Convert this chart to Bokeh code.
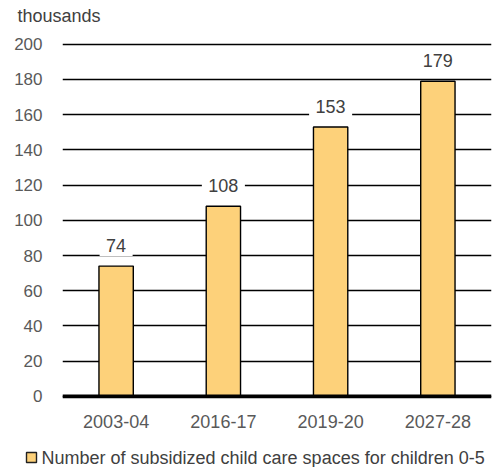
from bokeh.plotting import figure
from bokeh.models import (ColumnDataSource, Range1d, FactorRange, LabelSet, Span,
                          FixedTicker)
from bokeh.core.properties import value
from bokeh.embed import file_html
from bokeh.resources import INLINE

categories = ["2003-04", "2016-17", "2019-20", "2027-28"]
values = [74, 108, 153, 179]
labels = ["74", "108", "153", "179"]
y_ticks = [0, 20, 40, 60, 80, 100, 120, 140, 160, 180, 200]
series_name = "Number of subsidized child care spaces for children 0-5"
unit_label = "thousands"

FONT = "Liberation Sans"
BAR_COLOR = "#FDD17A"
W = 492

has_pad = "padding" in LabelSet.properties()
if has_pad:
    shown = labels
else:
    shown = ["\u00a0\u200a" + s + "\u00a0\u200a" for s in labels]

src = ColumnDataSource(dict(cat=categories, val=values, lab=shown))

def strip(h):
    fig = figure(width=W, height=h, x_range=Range1d(0, W), y_range=Range1d(0, h),
                 output_backend="svg", toolbar_location=None,
                 x_axis_location=None, y_axis_location=None,
                 min_border_left=0, min_border_right=0, min_border_top=0, min_border_bottom=0)
    fig.outline_line_color = None
    fig.background_fill_color = "white"
    fig.border_fill_color = "white"
    fig.grid.visible = False
    return fig

# --- top strip with the unit label ---
top = strip(32)
top.text(x=[17], y=[17], text=[unit_label], text_font=value(FONT), text_font_size="18px",
         text_color="#404040", text_baseline="middle", text_align="left")

# --- main chart ---
p = figure(width=W, height=408, x_range=FactorRange(*categories, range_padding=0),
           y_range=Range1d(-1.2, 201), output_backend="svg", toolbar_location=None,
           min_border_left=62, min_border_right=1, min_border_top=10, min_border_bottom=42)
p.outline_line_color = None
p.background_fill_color = "white"
p.border_fill_color = "white"

bars = p.vbar(x="cat", top="val", width=0.32, source=src, fill_color=BAR_COLOR,
              line_color="black", line_width=1.4)

p.xgrid.grid_line_color = None
p.ygrid.grid_line_color = "black"
p.ygrid.grid_line_width = 1.4
p.ygrid.ticker = FixedTicker(ticks=y_ticks)

p.yaxis.ticker = FixedTicker(ticks=y_ticks)
p.yaxis.axis_line_color = None
p.yaxis.major_tick_line_color = None
p.yaxis.minor_tick_line_color = None
p.yaxis.major_label_standoff = 14
p.yaxis.major_label_text_font = FONT
p.yaxis.major_label_text_font_size = "17px"
p.yaxis.major_label_text_color = "#595959"

p.xaxis.axis_line_color = None
p.xaxis.major_tick_line_color = None
p.xaxis.minor_tick_line_color = None
p.xaxis.major_label_standoff = 10
p.xaxis.major_label_text_font = FONT
p.xaxis.major_label_text_font_size = "18px"
p.xaxis.major_label_text_color = "#595959"

p.add_layout(Span(location=0, dimension="width", line_color="black", line_width=4))

lbl_kw = dict(x="cat", y="val", text="lab", source=src, y_offset=20,
              text_align="center", text_baseline="middle",
              text_font=value(FONT), text_font_size="18px", text_color="#404040",
              background_fill_color="white", background_fill_alpha=1.0)
if has_pad:
    lbl_kw["padding"] = 6
p.add_layout(LabelSet(**lbl_kw))

# --- legend strip ---
leg = strip(27)
leg.rect(x=[31], y=[10], width=[10], height=[10], fill_color=BAR_COLOR,
         line_color="#222222", line_width=1.4)
leg.text(x=[41], y=[10], text=[series_name], text_font=value(FONT), text_font_size="18px",
         text_color="#404040", text_baseline="middle", text_align="left")

open("out.html", "w").write(file_html([top, p, leg], INLINE))
